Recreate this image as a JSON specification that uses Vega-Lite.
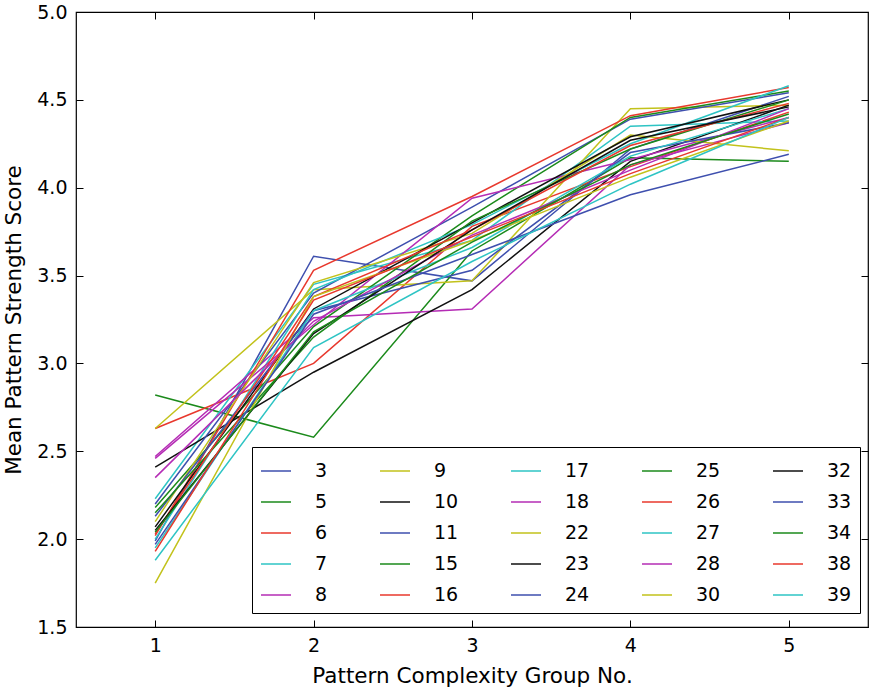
{
"$schema": "https://vega.github.io/schema/vega-lite/v6.json",
"width": 792, "height": 615,
"autosize": {"type": "none"},
"padding": {"left": 76, "top": 12, "right": 2, "bottom": 61},
"config": {
  "font": "DejaVu Sans",
  "view": {"stroke": "black", "strokeWidth": 1.2},
  "axis": {"grid": false, "domain": false, "tickColor": "black", "labelColor": "black", "titleColor": "black", "labelFontSize": 19, "titleFontSize": 21.5, "titleFontWeight": "normal", "tickSize": -7, "tickWidth": 1}
},
"data": {"values": [
{"series":"3","group":1,"score":1.99},{"series":"3","group":2,"score":3.61},{"series":"3","group":3,"score":3.47},{"series":"3","group":4,"score":4.22},{"series":"3","group":5,"score":4.52},
{"series":"5","group":1,"score":2.82},{"series":"5","group":2,"score":2.58},{"series":"5","group":3,"score":3.64},{"series":"5","group":4,"score":4.17},{"series":"5","group":5,"score":4.15},
{"series":"6","group":1,"score":2.63},{"series":"6","group":2,"score":3.00},{"series":"6","group":3,"score":3.78},{"series":"6","group":4,"score":4.12},{"series":"6","group":5,"score":4.43},
{"series":"7","group":1,"score":2.23},{"series":"7","group":2,"score":3.45},{"series":"7","group":3,"score":3.70},{"series":"7","group":4,"score":4.35},{"series":"7","group":5,"score":4.38},
{"series":"8","group":1,"score":2.47},{"series":"8","group":2,"score":3.26},{"series":"8","group":3,"score":3.31},{"series":"8","group":4,"score":4.13},{"series":"8","group":5,"score":4.37},
{"series":"9","group":1,"score":2.63},{"series":"9","group":2,"score":3.42},{"series":"9","group":3,"score":3.47},{"series":"9","group":4,"score":4.45},{"series":"9","group":5,"score":4.47},
{"series":"10","group":1,"score":2.41},{"series":"10","group":2,"score":2.95},{"series":"10","group":3,"score":3.42},{"series":"10","group":4,"score":4.15},{"series":"10","group":5,"score":4.47},
{"series":"11","group":1,"score":2.20},{"series":"11","group":2,"score":3.40},{"series":"11","group":3,"score":3.89},{"series":"11","group":4,"score":4.39},{"series":"11","group":5,"score":4.54},
{"series":"15","group":1,"score":2.18},{"series":"15","group":2,"score":3.21},{"series":"15","group":3,"score":3.84},{"series":"15","group":4,"score":4.40},{"series":"15","group":5,"score":4.55},
{"series":"16","group":1,"score":2.02},{"series":"16","group":2,"score":3.53},{"series":"16","group":3,"score":3.95},{"series":"16","group":4,"score":4.41},{"series":"16","group":5,"score":4.57},
{"series":"17","group":1,"score":2.00},{"series":"17","group":2,"score":3.42},{"series":"17","group":3,"score":3.79},{"series":"17","group":4,"score":4.25},{"series":"17","group":5,"score":4.58},
{"series":"18","group":1,"score":2.46},{"series":"18","group":2,"score":3.22},{"series":"18","group":3,"score":3.94},{"series":"18","group":4,"score":4.16},{"series":"18","group":5,"score":4.40},
{"series":"22","group":1,"score":2.10},{"series":"22","group":2,"score":3.46},{"series":"22","group":3,"score":3.74},{"series":"22","group":4,"score":4.30},{"series":"22","group":5,"score":4.21},
{"series":"23","group":1,"score":2.07},{"series":"23","group":2,"score":3.31},{"series":"23","group":3,"score":3.80},{"series":"23","group":4,"score":4.29},{"series":"23","group":5,"score":4.50},
{"series":"24","group":1,"score":2.13},{"series":"24","group":2,"score":3.30},{"series":"24","group":3,"score":3.53},{"series":"24","group":4,"score":4.20},{"series":"24","group":5,"score":4.37},
{"series":"25","group":1,"score":2.15},{"series":"25","group":2,"score":3.15},{"series":"25","group":3,"score":3.81},{"series":"25","group":4,"score":4.22},{"series":"25","group":5,"score":4.50},
{"series":"26","group":1,"score":2.03},{"series":"26","group":2,"score":3.38},{"series":"26","group":3,"score":3.76},{"series":"26","group":4,"score":4.24},{"series":"26","group":5,"score":4.48},
{"series":"27","group":1,"score":1.95},{"series":"27","group":2,"score":3.30},{"series":"27","group":3,"score":3.66},{"series":"27","group":4,"score":4.18},{"series":"27","group":5,"score":4.45},
{"series":"28","group":1,"score":2.35},{"series":"28","group":2,"score":3.24},{"series":"28","group":3,"score":3.73},{"series":"28","group":4,"score":4.10},{"series":"28","group":5,"score":4.45},
{"series":"30","group":1,"score":1.75},{"series":"30","group":2,"score":3.38},{"series":"30","group":3,"score":3.70},{"series":"30","group":4,"score":4.06},{"series":"30","group":5,"score":4.38},
{"series":"32","group":1,"score":2.05},{"series":"32","group":2,"score":3.17},{"series":"32","group":3,"score":3.76},{"series":"32","group":4,"score":4.27},{"series":"32","group":5,"score":4.46},
{"series":"33","group":1,"score":1.97},{"series":"33","group":2,"score":3.28},{"series":"33","group":3,"score":3.62},{"series":"33","group":4,"score":3.96},{"series":"33","group":5,"score":4.19},
{"series":"34","group":1,"score":2.04},{"series":"34","group":2,"score":3.18},{"series":"34","group":3,"score":3.69},{"series":"34","group":4,"score":4.13},{"series":"34","group":5,"score":4.42},
{"series":"38","group":1,"score":1.93},{"series":"38","group":2,"score":3.36},{"series":"38","group":3,"score":3.72},{"series":"38","group":4,"score":4.08},{"series":"38","group":5,"score":4.40},
{"series":"39","group":1,"score":1.88},{"series":"39","group":2,"score":3.09},{"series":"39","group":3,"score":3.58},{"series":"39","group":4,"score":4.02},{"series":"39","group":5,"score":4.40}
]},
"layer": [
  {
    "mark": {"type": "line", "strokeWidth": 1.5},
    "encoding": {
      "x": {"field": "group", "type": "quantitative", "scale": {"domain": [0.5, 5.5], "nice": false, "zero": false}, "axis": {"values": [1,2,3,4,5], "title": "Pattern Complexity Group No.", "labelPadding": 16, "titlePadding": 10}},
      "y": {"field": "score", "type": "quantitative", "scale": {"domain": [1.5, 5.0], "nice": false, "zero": false}, "axis": {"values": [1.5,2.0,2.5,3.0,3.5,4.0,4.5,5.0], "format": ".1f", "title": "Mean Pattern Strength Score", "labelPadding": 16, "titlePadding": 11}},
      "color": {"field": "series", "type": "nominal",
        "scale": {
          "domain": ["3","5","6","7","8","9","10","11","15","16","17","18","22","23","24","25","26","27","28","30","32","33","34","38","39"],
          "range": ["#3e4fae","#1b8a1b","#e8382d","#2ec4c4","#b52cb5","#c2c21b","#111111","#3e4fae","#1b8a1b","#e8382d","#2ec4c4","#b52cb5","#c2c21b","#111111","#3e4fae","#1b8a1b","#e8382d","#2ec4c4","#b52cb5","#c2c21b","#111111","#3e4fae","#1b8a1b","#e8382d","#2ec4c4"]
        },
        "legend": {"title": null, "orient": "none", "legendX": 176, "legendY": 435, "columns": 5, "columnPadding": 49, "rowPadding": 5, "symbolType": "stroke", "symbolSize": 900, "symbolStrokeWidth": 1.5, "labelFontSize": 19, "labelOffset": 23, "labelColor": "black", "padding": 8, "strokeColor": "black", "fillColor": "white", "cornerRadius": 0}
      }
    }
  },
  {
    "mark": {"type": "line", "opacity": 0},
    "encoding": {
      "x": {"field": "group", "type": "quantitative", "scale": {"domain": [0.5, 5.5], "nice": false, "zero": false}, "axis": {"orient": "top", "values": [1,2,3,4,5], "labels": false, "title": null}},
      "y": {"field": "score", "type": "quantitative", "scale": {"domain": [1.5, 5.0], "nice": false, "zero": false}, "axis": {"orient": "right", "values": [1.5,2.0,2.5,3.0,3.5,4.0,4.5,5.0], "labels": false, "title": null}},
      "detail": {"field": "series"}
    }
  }
],
"resolve": {"axis": {"x": "independent", "y": "independent"}}
}
